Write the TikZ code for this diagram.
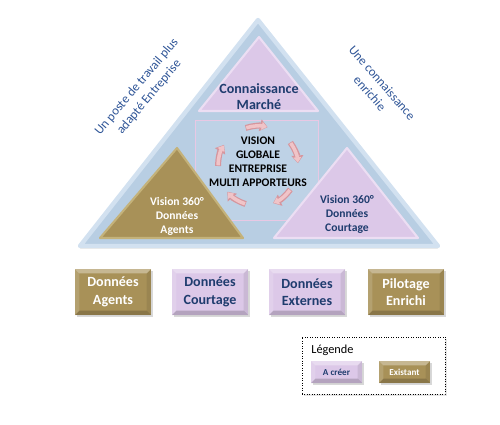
\documentclass[tikz,border=0pt]{standalone}
\usepackage{fontspec}
\setmainfont{Carlito}
\usetikzlibrary{arrows.meta, positioning, shadows, fit}
\definecolor{pyramidcolor}{RGB}{184, 206, 227}
\definecolor{pyramidedge}{RGB}{210, 225, 240}
\definecolor{goldcolor}{RGB}{168, 145, 88}
\definecolor{goldedge}{RGB}{196, 178, 122}
\definecolor{lilaccolor}{RGB}{220, 200, 232}
\definecolor{lilacedge}{RGB}{236, 222, 243}
\definecolor{centercolor}{RGB}{190, 210, 230}
\definecolor{centeredge}{RGB}{232, 200, 228}
\definecolor{cyclecolor}{RGB}{214, 150, 158}
\definecolor{cyclefill}{RGB}{240, 196, 200}
\definecolor{titlecolor}{RGB}{31, 60, 110}
\definecolor{sidecolor}{RGB}{47, 85, 151}

\begin{document}
\begin{tikzpicture}[
    x=0.2mm, y=-0.2mm,
    bevel/.style={path picture={
        \fill[white, opacity=0.35] (path picture bounding box.north west) -- (path picture bounding box.north east)
            -- ([shift={(-2.5pt,-2.5pt)}]path picture bounding box.north east) -- ([shift={(2.5pt,-2.5pt)}]path picture bounding box.north west) -- cycle;
        \fill[white, opacity=0.15] (path picture bounding box.north west) -- (path picture bounding box.south west)
            -- ([shift={(2.5pt,2.5pt)}]path picture bounding box.south west) -- ([shift={(2.5pt,-2.5pt)}]path picture bounding box.north west) -- cycle;
        \fill[black, opacity=0.18] (path picture bounding box.south west) -- (path picture bounding box.south east)
            -- ([shift={(-2.5pt,2.5pt)}]path picture bounding box.south east) -- ([shift={(2.5pt,2.5pt)}]path picture bounding box.south west) -- cycle;
        \fill[black, opacity=0.08] (path picture bounding box.north east) -- (path picture bounding box.south east)
            -- ([shift={(-2.5pt,2.5pt)}]path picture bounding box.south east) -- ([shift={(-2.5pt,-2.5pt)}]path picture bounding box.north east) -- cycle;
    }},
    existing/.style={bevel, fill=goldcolor, text=white, font=\fontsize{8}{10}\selectfont\bfseries, align=center,
        minimum width=1.52cm, minimum height=0.92cm, drop shadow={opacity=0.3, shadow xshift=1pt, shadow yshift=-1pt}},
    tocreate/.style={existing, fill=lilaccolor, text=titlecolor},
    smallbox/.style={minimum width=1.02cm, minimum height=0.44cm, font=\fontsize{5.2}{6}\selectfont\bfseries},
    triangletext/.style={align=center, inner sep=0pt, font=\fontsize{6.6}{8}\selectfont\bfseries},
    sidetext/.style={align=center, inner sep=0pt, text=sidecolor, font=\fontsize{7.3}{9.2}\selectfont},
    cyclearrow/.style={cyclecolor, line width=3.4pt, -{Triangle[width=6.6pt, length=4.4pt]}},
    cycleinner/.style={cyclefill, line width=2pt, -{Triangle[width=4.4pt, length=3pt]}}
]
    \useasboundingbox (0, 0) rectangle (500, 425);

    % Pyramid
    \filldraw[fill=pyramidcolor, draw=pyramidedge, line width=2.5pt, line join=round,
        drop shadow={opacity=0.25, shadow xshift=0pt, shadow yshift=-1.5pt}] (80, 246) -- (438, 246) -- (258, 20) -- cycle;
    \filldraw[fill=centercolor, draw=centeredge, thin] (195, 120) rectangle (318, 220);

    % Inner triangles
    \filldraw[fill=lilaccolor, draw=lilacedge, line width=1.2pt, line join=round] (199, 111) -- (318, 111) -- (259, 37) -- cycle;
    \filldraw[fill=goldcolor, draw=goldedge, line width=1.2pt, line join=round] (100, 238) -- (243, 238) -- (177, 148) -- cycle;
    \filldraw[fill=lilaccolor, draw=lilacedge, line width=1.2pt, line join=round] (274, 238) -- (418, 238) -- (347, 148) -- cycle;

    \node[triangletext, text=titlecolor, font=\fontsize{8}{9.2}\selectfont\bfseries] (market) at (259, 97) {Connaissance\\Marché};
    \node[triangletext, text=white] (agents360) at (177, 216) {Vision 360°\\Données\\Agents};
    \node[triangletext, text=titlecolor] (courtage360) at (347, 214) {Vision 360°\\Données\\Courtage};
    \node[triangletext, text=black] (vision) at (258, 162) {VISION\\GLOBALE\\ENTREPRISE\\MULTI APPORTEURS};

    % Cycle around the vision
    \coordinate (hub) at (258, 166);
    \foreach \a in {-108, -36, 36, 108, 180} {
        \draw[cyclearrow] ([shift={(\a:40)}]hub) arc[start angle=\a, end angle=\a+32, radius=40];
        \draw[cycleinner] ([shift={(\a+1:40)}]hub) arc[start angle=\a+1, end angle=\a+31, radius=40];
    }

    % Side labels
    \node[sidetext, rotate=50] (poste) at (143, 92) {Un poste de travail plus\\adapté Entreprise};
    \node[sidetext, rotate=-49] (enrichie) at (376, 88) {Une connaissance\\enrichie};

    % Data sources
    \node[existing] (dagents) at (113, 292) {Données\\Agents};
    \node[tocreate] (dcourtage) at (210, 292) {Données\\Courtage};
    \node[tocreate] (dexternes) at (307, 292) {Données\\Externes};
    \node[existing] (pilotage) at (406, 292) {Pilotage\\Enrichi};

    % Legend
    \node[draw, densely dotted, thin, minimum width=2.86cm, minimum height=1.14cm, fill=white,
        drop shadow={opacity=0.2, shadow xshift=1pt, shadow yshift=-1pt}] (legend) at (373.5, 365.5) {};
    \node[anchor=west, inner sep=0pt, font=\fontsize{7}{8}\selectfont] (legendtitle) at (311, 350) {Légende};
    \node[tocreate, smallbox] (acreer) at (336.5, 372) {A créer};
    \node[existing, smallbox] (existant) at (404.5, 372) {Existant};

\end{tikzpicture}
\end{document}
